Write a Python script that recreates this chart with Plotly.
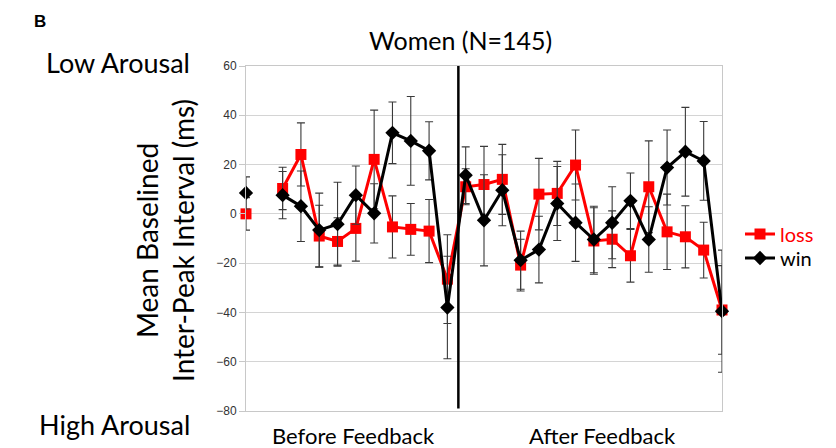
import plotly.graph_objects as go

x_pos = list(range(27))
loss = [0, None, 10.3, 24.1, -9, -11.2, -5.9, 22.1, -5.3, -6.3, -7, -26.5,
        11, 11.9, 14, -20.8, 8, 8.3, 19.8, -11, -10.3, -17, 11, -7.3, -9.3, -14.7, -39]
loss_err = [6.6, 0, 8.6, 12.8, 12.5, 9.6, 13.3, 20, 12.6, 10.5, 12.8, 18,
            7.3, 15.5, 14.2, 10.5, 14.5, 13, 14.2, 13.5, 11.5, 10.7, 18.6, 15.3, 12.6, 11.3, 18]
win = [8.5, None, 7.6, 3.1, -6.6, -4.2, 7.6, 0.2, 32.9, 29.6, 25.6, -38,
       15.7, -2.6, 9.6, -18.8, -14.5, 4.2, -3.6, -10.4, -3.6, 5.3, -10.4, 18.8, 25.2, 21.5, -39.5]
win_err = [6.5, 0, 9.6, 14.3, 15, 17, 11.8, 12, 12.5, 18, 11.8, 20.8,
           11.5, 18.5, 14.4, 11.8, 13.5, 15, 15.7, 13.5, 14.6, 11.3, 13.3, 15.2, 18, 16, 24.8]
y_ticks = [-80, -60, -40, -20, 0, 20, 40, 60]
feedback_split = 11.6
phase_labels = ["Before Feedback", "After Feedback"]
phase_pos = [5.85, 19.45]

px_w = 476.0
px_h = 345.0
def pxx(px):
    return (px - 246) / px_w
def pxy(py):
    return (411 - py) / px_h

fig = go.Figure()
err_style = dict(type="data", color="#3a3a3a", thickness=1.1, width=4, visible=True)
fig.add_trace(go.Scatter(
    x=x_pos, y=loss, name="<span style='color:#ff0000'>loss</span>", legend="legend",
    mode="lines+markers", line=dict(color="#ff0000", width=3),
    marker=dict(symbol="square", size=11, color="#ff0000"),
    error_y=dict(array=loss_err, **err_style), cliponaxis=False, connectgaps=False))
fig.add_trace(go.Scatter(
    x=x_pos, y=win, name="win", legend="legend2",
    mode="lines+markers", line=dict(color="#000000", width=3),
    marker=dict(symbol="diamond", size=11, color="#000000"),
    error_y=dict(array=win_err, **err_style), cliponaxis=False, connectgaps=False))

fig.add_shape(type="line", x0=feedback_split, x1=feedback_split, y0=-79, y1=60,
              xref="x", yref="y", line=dict(color="black", width=2.5))

for lab, p in zip(phase_labels, phase_pos):
    fig.add_annotation(x=p, xref="x", y=pxy(435), yref="paper", text=lab, showarrow=False,
                       xanchor="center", yanchor="middle",
                       font=dict(family="Lato", size=22, color="black"))

fig.add_annotation(x=pxx(460), y=pxy(40), xref="paper", yref="paper", text="Women (N=145)",
                   showarrow=False, xanchor="center", yanchor="middle",
                   font=dict(family="Lato", size=25, color="black"))
fig.add_annotation(x=pxx(192), y=pxy(62), xref="paper", yref="paper", text="Low Arousal",
                   showarrow=False, xanchor="right", yanchor="middle",
                   font=dict(family="Lato", size=27, color="black"))
fig.add_annotation(x=pxx(192), y=pxy(425), xref="paper", yref="paper", text="High Arousal",
                   showarrow=False, xanchor="right", yanchor="middle",
                   font=dict(family="Lato", size=27, color="black"))
fig.add_annotation(x=pxx(165), y=pxy(241), xref="paper", yref="paper",
                   text="Mean Baselined<br>Inter-Peak Interval (ms)", textangle=-90,
                   showarrow=False, xanchor="center", yanchor="middle",
                   font=dict(family="Lato", size=28, color="black"))
fig.add_annotation(x=pxx(40), y=pxy(21), xref="paper", yref="paper", text="<b>B</b>",
                   showarrow=False, xanchor="center", yanchor="middle",
                   font=dict(family="Liberation Sans", size=17, color="black"))

leg_common = dict(xanchor="left", yanchor="middle", font=dict(family="Lato", size=20, color="black"),
                  itemwidth=30, bgcolor="rgba(0,0,0,0)", borderwidth=0)
fig.update_layout(
    width=836, height=448,
    margin=dict(l=246, r=114, t=66, b=37),
    plot_bgcolor="white", paper_bgcolor="white",
    showlegend=True,
    legend=dict(x=pxx(740), y=pxy(234), **leg_common),
    legend2=dict(x=pxx(740), y=pxy(258), **leg_common),
    xaxis=dict(range=[0, 26], showticklabels=False, showgrid=False, zeroline=False,
               showline=True, linecolor="#c8c8c8", linewidth=1, mirror=True, ticks=""),
    yaxis=dict(range=[-80, 60], tickvals=y_ticks, showgrid=True, gridcolor="#d4d4d4",
               gridwidth=1, zeroline=False, showline=True, linecolor="#c8c8c8", mirror=True,
               ticks="outside", ticklen=6, tickcolor="#c8c8c8",
               tickfont=dict(family="Liberation Sans", size=12, color="#333333")),
)

fig.write_html("out.html")
